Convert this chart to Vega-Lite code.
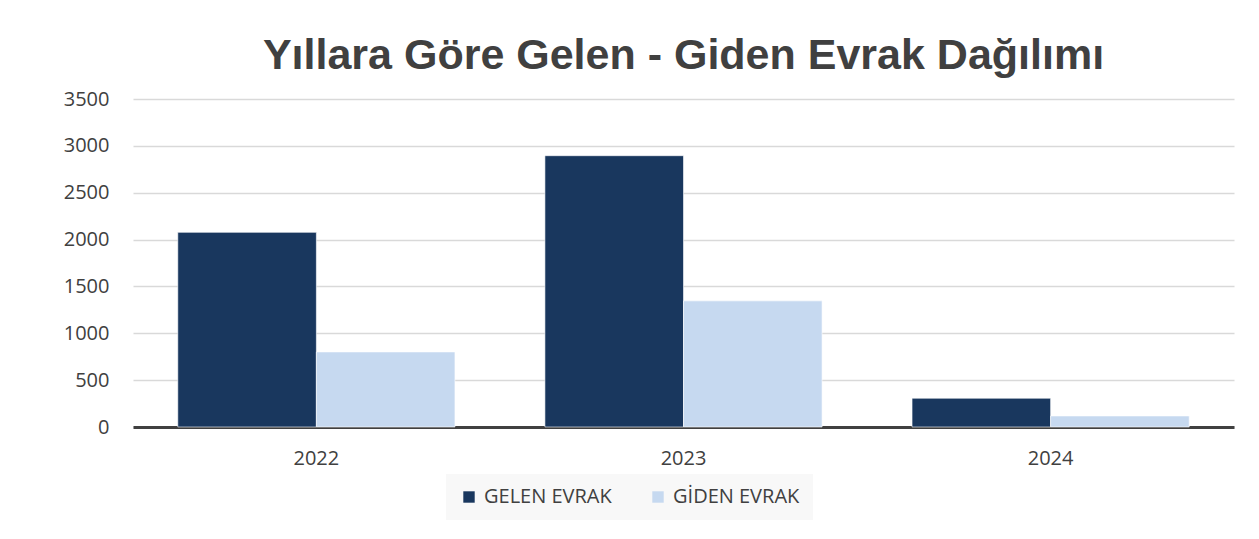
{
  "$schema": "https://vega.github.io/schema/vega-lite/v6.json",
  "width": 1101,
  "height": 328,
  "padding": {"left": 63, "top": 35, "right": 20, "bottom": 10},
  "background": "white",
  "title": {
    "text": "Yıllara Göre Gelen - Giden Evrak Dağılımı",
    "font": "Liberation Sans",
    "fontSize": 43,
    "fontWeight": "bold",
    "color": "#404040",
    "anchor": "middle",
    "offset": 11
  },
  "data": {
    "values": [
      {"yil": "2022", "tur": "GELEN EVRAK", "deger": 2077},
      {"yil": "2022", "tur": "GİDEN EVRAK", "deger": 801},
      {"yil": "2023", "tur": "GELEN EVRAK", "deger": 2895},
      {"yil": "2023", "tur": "GİDEN EVRAK", "deger": 1346},
      {"yil": "2024", "tur": "GELEN EVRAK", "deger": 307},
      {"yil": "2024", "tur": "GİDEN EVRAK", "deger": 118}
    ]
  },
  "mark": {"type": "bar", "stroke": "white", "strokeWidth": 0.6},
  "encoding": {
    "x": {
      "field": "yil",
      "type": "nominal",
      "title": null,
      "scale": {"paddingInner": 0.245, "paddingOuter": 0.122},
      "axis": {
        "labelAngle": 0,
        "labelFont": "Open Sans",
        "labelFontSize": 20,
        "labelColor": "#404040",
        "labelPadding": 21,
        "ticks": false,
        "domainColor": "#404040",
        "domainWidth": 3
      }
    },
    "xOffset": {"field": "tur", "sort": ["GELEN EVRAK", "GİDEN EVRAK"]},
    "y": {
      "field": "deger",
      "type": "quantitative",
      "title": null,
      "scale": {"domain": [0, 3500], "nice": false},
      "axis": {
        "values": [0, 500, 1000, 1500, 2000, 2500, 3000, 3500],
        "format": "d",
        "labelFont": "Open Sans",
        "labelFontSize": 20,
        "labelColor": "#404040",
        "labelPadding": 24,
        "ticks": false,
        "domain": false,
        "gridColor": "#d9d9d9",
        "gridWidth": 1.5
      }
    },
    "color": {
      "field": "tur",
      "type": "nominal",
      "title": null,
      "sort": ["GELEN EVRAK", "GİDEN EVRAK"],
      "scale": {"domain": ["GELEN EVRAK", "GİDEN EVRAK"], "range": ["#19375e", "#c6d9f0"]},
      "legend": {
        "orient": "none",
        "legendX": 313,
        "legendY": 375,
        "direction": "horizontal",
        "fillColor": "#f8f8f8",
        "padding": 13,
        "symbolType": "square",
        "symbolSize": 130,
        "symbolStrokeWidth": 0,
        "labelFont": "Open Sans",
        "labelFontSize": 20,
        "labelColor": "#404040",
        "columnPadding": 36,
        "labelOffset": 5
      }
    }
  },
  "config": {"view": {"stroke": null}}
}
